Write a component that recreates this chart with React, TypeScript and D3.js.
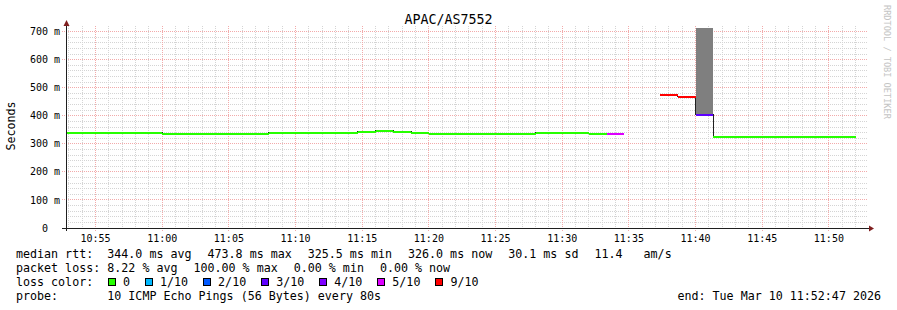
import React from "react";
import * as d3 from "d3";

const W = 897;
const H = 310;
const DAY = "2026-03-10T";
const RANGE_START = "10:52:47";
const RANGE_END = "11:52:47";

// start time of every 80 s step
const stepStart = [
  "10:52:00", "10:53:20", "10:54:40", "10:56:00", "10:57:20", "10:58:40",
  "11:00:00", "11:01:20", "11:02:40", "11:04:00", "11:05:20", "11:06:40",
  "11:08:00", "11:09:20", "11:10:40", "11:12:00", "11:13:20", "11:14:40",
  "11:16:00", "11:17:20", "11:18:40", "11:20:00", "11:21:20", "11:22:40",
  "11:24:00", "11:25:20", "11:26:40", "11:28:00", "11:29:20", "11:30:40",
  "11:32:00", "11:33:20", "11:34:40", "11:36:00", "11:37:20", "11:38:40",
  "11:40:00", "11:41:20", "11:42:40", "11:44:00", "11:45:20", "11:46:40",
  "11:48:00", "11:49:20", "11:50:40", "11:52:00",
];

// median rtt (ms) per step, null = no data
const medianMs: (number | null)[] = [
  338, 338, 338, 338, 338, 338,
  335, 335, 335, 335, 335, 335,
  338, 338, 338, 338, 338, 341,
  345, 342, 338, 335, 335, 335,
  335, 335, 335, 338, 338, 338,
  335, 335, null, null, 473.8, 467.5,
  402, 325.5, 326, 326, 326, 326,
  326, 326, 326, null,
];

// lost pings out of 10 per step
const lossOf10: (number | null)[] = [
  0, 0, 0, 0, 0, 0,
  0, 0, 0, 0, 0, 0,
  0, 0, 0, 0, 0, 0,
  0, 0, 0, 0, 0, 0,
  0, 0, 0, 0, 0, 0,
  0, 5, 10, 10, 9, 9,
  3, 0, 0, 0, 0, 0,
  0, 0, 0, null,
];

// upper edge of the smoke (ms) per step
const smokeTopMs: (number | null)[] = [
  null, null, null, null, null, null,
  null, null, null, null, null, null,
  null, null, null, null, null, null,
  null, null, null, null, null, null,
  null, null, null, null, null, null,
  null, null, null, null, null, null,
  713, null, null, null, null, null,
  null, null, null, null,
];

const yTickValues = [0, 100, 200, 300, 400, 500, 600, 700];
const yTickLabels = ["  0", "100 m", "200 m", "300 m", "400 m", "500 m", "600 m", "700 m"];

const lossLevels = [0, 1, 2, 3, 4, 5, 9];
const lossLabels = ["0", "1/10", "2/10", "3/10", "4/10", "5/10", "9/10"];
const lossColors = ["#26ff00", "#00b8ff", "#0059ff", "#5e00ff", "#7e00ff", "#dd00ff", "#ff0000"];

const rttStats = ["344.0 ms avg", "473.8 ms max", "325.5 ms min", "326.0 ms now", "30.1 ms sd", "11.4   am/s"];
const lossStats = ["8.22 % avg", "100.00 % max", "0.00 % min", "0.00 % now"];
const probeText = "10 ICMP Echo Pings (56 Bytes) every 80s";
const endText = "end: Tue Mar 10 11:52:47 2026";
const titleText = "APAC/AS7552";
const yLabel = "Seconds";
const watermark = "RRDTOOL / TOBI OETIKER";

const MONO = "'DejaVu Sans Mono', monospace";
const CHAR_W = 7.02;
const FS = 11.66;

const toDate = (s: string) => new Date(DAY + s + "Z");

function colorForLoss(l: number | null): string {
  if (l == null) return "none";
  let c = lossColors[0];
  lossLevels.forEach((lv, i) => {
    if (l >= lv) c = lossColors[i];
  });
  return c;
}

export default function App() {
  const left = 66, right = 866, top = 26, bottom = 228;
  const x = d3.scaleUtc().domain([toDate(RANGE_START), toDate(RANGE_END)]).range([left, right]);
  const y = d3.scaleLinear().domain([0, 720]).range([bottom, top]);
  const px = (v: number) => Math.floor(v) + 0.5;

  const majorT = x.ticks(d3.utcMinute.every(5)!);
  const minorT = x.ticks(d3.utcMinute.every(1)!).filter((t) => t.getUTCMinutes() % 5 !== 0);
  const fmt = d3.utcFormat("%H:%M");
  const minorY = d3.range(20, 720, 20).filter((v) => v % 100 !== 0);

  const steps = stepStart.map((s, i) => ({
    t0: toDate(s),
    t1: i + 1 < stepStart.length ? toDate(stepStart[i + 1]) : new Date(toDate(s).getTime() + 80000),
    v: medianMs[i],
    loss: lossOf10[i],
    smoke: smokeTopMs[i],
  }));

  const line = d3
    .line<{ t0: Date; v: number | null }>()
    .defined((d) => d.v != null)
    .x((d) => px(x(d.t0)))
    .y((d) => Math.round(y(d.v as number)) - 0.5)
    .curve(d3.curveStepAfter);

  const gridMinor = "#d4d4d4";
  const gridMajor = "#f2aaaa";

  // legend layout
  const valX = 107.3;
  const gap = 16;
  const piecePos = (pieces: string[]) => {
    let cx = valX;
    return pieces.map((p) => {
      const r = cx;
      cx += p.length * CHAR_W + gap;
      return r;
    });
  };
  const rttX = piecePos(rttStats);
  const lossX = piecePos(lossStats);
  const boxes: { bx: number; tx: number }[] = [];
  {
    let bx = 108;
    lossLabels.forEach((lab) => {
      const tx = bx + 15;
      boxes.push({ bx, tx });
      bx = tx + lab.length * CHAR_W + 15;
    });
  }

  const textStyle: React.CSSProperties = { whiteSpace: "pre" };

  return (
    <svg
      width={W}
      height={H}
      viewBox={`0 0 ${W} ${H}`}
      style={{ position: "absolute", left: 0, top: 0, display: "block", background: "#fff" }}
    >
      <rect x={0} y={0} width={W} height={H} fill="#ffffff" />
      <defs>
        <clipPath id="plot">
          <rect x={left} y={top} width={right - left} height={bottom - top} />
        </clipPath>
      </defs>

      {/* minor grid */}
      <g stroke={gridMinor} strokeWidth={1} strokeDasharray="1,1" shapeRendering="crispEdges">
        {minorY.map((v) => (
          <line key={"my" + v} x1={left} x2={right + 2} y1={px(y(v))} y2={px(y(v))} />
        ))}
        {minorT.map((t) => (
          <line key={"mx" + t.getTime()} x1={px(x(t))} x2={px(x(t))} y1={top} y2={bottom + 2} />
        ))}
      </g>
      {/* major grid */}
      <g stroke={gridMajor} strokeWidth={1} strokeDasharray="1,1" shapeRendering="crispEdges">
        {yTickValues.map((v) => (
          <line key={"My" + v} x1={left - 4} x2={right + 2} y1={px(y(v))} y2={px(y(v))} />
        ))}
        {majorT.map((t) => (
          <line key={"Mx" + t.getTime()} x1={px(x(t))} x2={px(x(t))} y1={top} y2={bottom + 3} />
        ))}
      </g>

      <g clipPath="url(#plot)">
        {/* smoke */}
        {steps.map((d, i) =>
          d.smoke != null && d.v != null ? (
            <rect
              key={"s" + i}
              x={Math.round(x(d.t0))}
              width={Math.round(x(d.t1)) - Math.round(x(d.t0))}
              y={Math.round(y(d.smoke))}
              height={Math.round(y(d.v)) - Math.round(y(d.smoke))}
              fill="#7f7f7f"
            />
          ) : null
        )}
        {/* median line */}
        <path d={line(steps) || ""} fill="none" stroke="#202020" strokeWidth={1} shapeRendering="crispEdges" />
        {/* loss-coloured median bands */}
        {steps.map((d, i) =>
          d.v != null ? (
            <rect
              key={"b" + i}
              x={Math.round(x(d.t0))}
              width={Math.round(x(d.t1)) - Math.round(x(d.t0))}
              y={Math.round(y(d.v)) - 1}
              height={2}
              fill={colorForLoss(d.loss)}
              shapeRendering="crispEdges"
            />
          ) : null
        )}
      </g>

      {/* axes */}
      <g stroke="#1f1f1f" strokeWidth={1} shapeRendering="crispEdges">
        <line x1={left + 0.5} x2={left + 0.5} y1={bottom + 3} y2={top - 2} />
        <line x1={left - 4} x2={right + 3} y1={bottom + 0.5} y2={bottom + 0.5} />
      </g>
      <path d={`M${left - 2.5},${top} L${left + 3.5},${top} L${left + 0.5},${top - 6} Z`} fill="#7f1f1f" />
      <path d={`M${right + 3},${bottom - 2.5} L${right + 3},${bottom + 3.5} L${right + 8},${bottom + 0.5} Z`} fill="#7f1f1f" />

      {/* tick labels */}
      <g fontFamily={MONO} fontSize={10} fill="#000">
        {yTickValues.map((v, i) => (
          <text key={"yl" + v} x={30} y={y(v) + 3.6} style={textStyle}>
            {yTickLabels[i]}
          </text>
        ))}
        {majorT.map((t) => (
          <text key={"xl" + t.getTime()} x={x(t)} y={241.5} textAnchor="middle">
            {fmt(t)}
          </text>
        ))}
      </g>

      {/* title and axis label */}
      <text x={448.5} y={24} textAnchor="middle" fontFamily={MONO} fontSize={13.3} fill="#000">
        {titleText}
      </text>
      <text
        transform="translate(15,126) rotate(-90)"
        textAnchor="middle"
        fontFamily={MONO}
        fontSize={FS}
        fill="#000"
      >
        {yLabel}
      </text>
      <text
        transform="translate(883.5,5) rotate(90)"
        fontFamily={MONO}
        fontSize={8.6}
        fill="#c4c4c4"
      >
        {watermark}
      </text>

      {/* legend */}
      <g fontFamily={MONO} fontSize={FS} fill="#000">
        <text x={16} y={258}>median rtt:</text>
        {rttStats.map((s, i) => (
          <text key={"r" + i} x={rttX[i]} y={258} style={textStyle}>
            {s}
          </text>
        ))}
        <text x={16} y={272}>packet loss:</text>
        {lossStats.map((s, i) => (
          <text key={"p" + i} x={lossX[i]} y={272} style={textStyle}>
            {s}
          </text>
        ))}
        <text x={16} y={286}>loss color:</text>
        {lossLabels.map((lab, i) => (
          <g key={"lc" + i}>
            <rect
              x={boxes[i].bx + 0.5}
              y={278.5}
              width={7}
              height={7}
              fill={lossColors[i]}
              stroke="#000"
              strokeWidth={1}
              shapeRendering="crispEdges"
            />
            <text x={boxes[i].tx} y={286}>
              {lab}
            </text>
          </g>
        ))}
        <text x={16} y={300}>probe:</text>
        <text x={valX} y={300} style={textStyle}>
          {probeText}
        </text>
        <text x={881} y={300} textAnchor="end" style={textStyle}>
          {endText}
        </text>
      </g>
    </svg>
  );
}
